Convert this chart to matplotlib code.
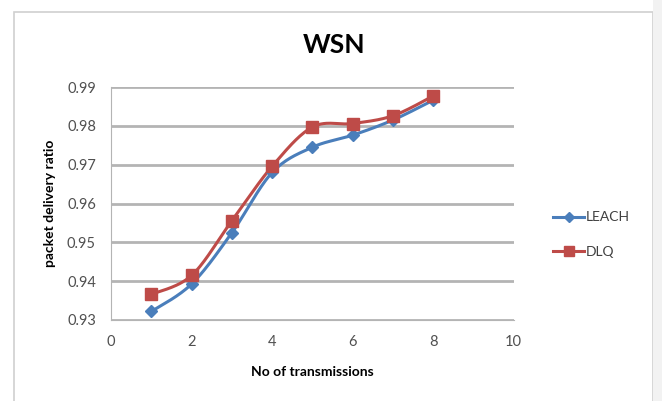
import numpy as np
import matplotlib
matplotlib.use('Agg')
import matplotlib.pyplot as plt
from matplotlib.patches import Rectangle
from matplotlib.lines import Line2D

# values
transmissions = [1, 2, 3, 4, 5, 6, 7, 8]
leach = [0.9322, 0.9393, 0.9525, 0.9680, 0.9745, 0.9776, 0.9815, 0.9866]
dlq = [0.9366, 0.9415, 0.9556, 0.9696, 0.9797, 0.9806, 0.9826, 0.9877]


def smooth(x, y, n=30):
    # Excel-style smoothed line (Catmull-Rom through the points)
    x = np.asarray(x, float)
    y = np.asarray(y, float)
    px = np.concatenate([[x[0]], x, [x[-1]]])
    py = np.concatenate([[y[0]], y, [y[-1]]])
    xs, ys = [], []
    t = np.linspace(0, 1, n)
    for i in range(1, len(px) - 2):
        p0 = np.array([px[i], py[i]])
        p3 = np.array([px[i + 1], py[i + 1]])
        p1 = p0 + (np.array([px[i + 1], py[i + 1]]) - np.array([px[i - 1], py[i - 1]])) / 6
        p2 = p3 - (np.array([px[i + 2], py[i + 2]]) - np.array([px[i], py[i]])) / 6
        b = ((1 - t) ** 3)[:, None] * p0 + (3 * (1 - t) ** 2 * t)[:, None] * p1 \
            + (3 * (1 - t) * t ** 2)[:, None] * p2 + (t ** 3)[:, None] * p3
        xs.extend(b[:, 0])
        ys.extend(b[:, 1])
    return xs, ys


plt.rcParams['font.family'] = ['Lato', 'DejaVu Sans']

fig = plt.figure(figsize=(6.62, 4.01), dpi=100)
ax = fig.add_axes([0.168, 0.202, 0.608, 0.581])

# chart frame and the spreadsheet edge on the right
fig.patches.append(Rectangle((0.021, -0.01), 0.965, 0.98, transform=fig.transFigure,
                             fill=False, edgecolor='#d0d0d0', linewidth=1.2))
fig.patches.append(Rectangle((0.986, 0), 0.014, 1, transform=fig.transFigure,
                             facecolor='#f2f2f2', edgecolor='none'))

blue = '#4a7ebb'
red = '#be4b48'

sx, sy = smooth(transmissions, leach)
ax.plot(sx, sy, color=blue, lw=2.2, zorder=3)
ax.plot(transmissions, leach, ls='none', marker='D', ms=6, color=blue, zorder=4)
sx, sy = smooth(transmissions, dlq)
ax.plot(sx, sy, color=red, lw=2.2, zorder=3)
ax.plot(transmissions, dlq, ls='none', marker='s', ms=8, color=red, zorder=4)

ax.set_xlim(0, 10)
ax.set_ylim(0.93, 0.99)
ax.set_xticks([0, 2, 4, 6, 8, 10])
ax.set_yticks([0.93, 0.94, 0.95, 0.96, 0.97, 0.98, 0.99])
ax.set_yticklabels(['0.93', '0.94', '0.95', '0.96', '0.97', '0.98', '0.99'])
ax.grid(axis='y', color='#b4b4b4', lw=2)
ax.set_axisbelow(True)
ax.tick_params(length=0, labelsize=10.5, colors='#505050', pad=11)
for s in ['top', 'right']:
    ax.spines[s].set_visible(False)
for s in ['left', 'bottom']:
    ax.spines[s].set_color('#b4b4b4')

ax.set_xlabel('No of transmissions', fontsize=10, fontweight='bold', labelpad=12)
ax.set_ylabel('packet delivery ratio', fontsize=10, fontweight='bold', labelpad=8)
fig.text(0.505, 0.888, 'WSN', ha='center', va='center', fontsize=19, fontweight='bold')

handles = [Line2D([], [], color=blue, lw=2.2, marker='D', ms=5),
           Line2D([], [], color=red, lw=2.2, marker='s', ms=7)]
fig.legend(handles, ['LEACH', 'DLQ'], loc='center left', bbox_to_anchor=(0.817, 0.415),
           frameon=False, fontsize=10, handlelength=2.2, handletextpad=0.1,
           labelspacing=1.6, labelcolor='#404040')

fig.savefig('out.png', dpi=100)
